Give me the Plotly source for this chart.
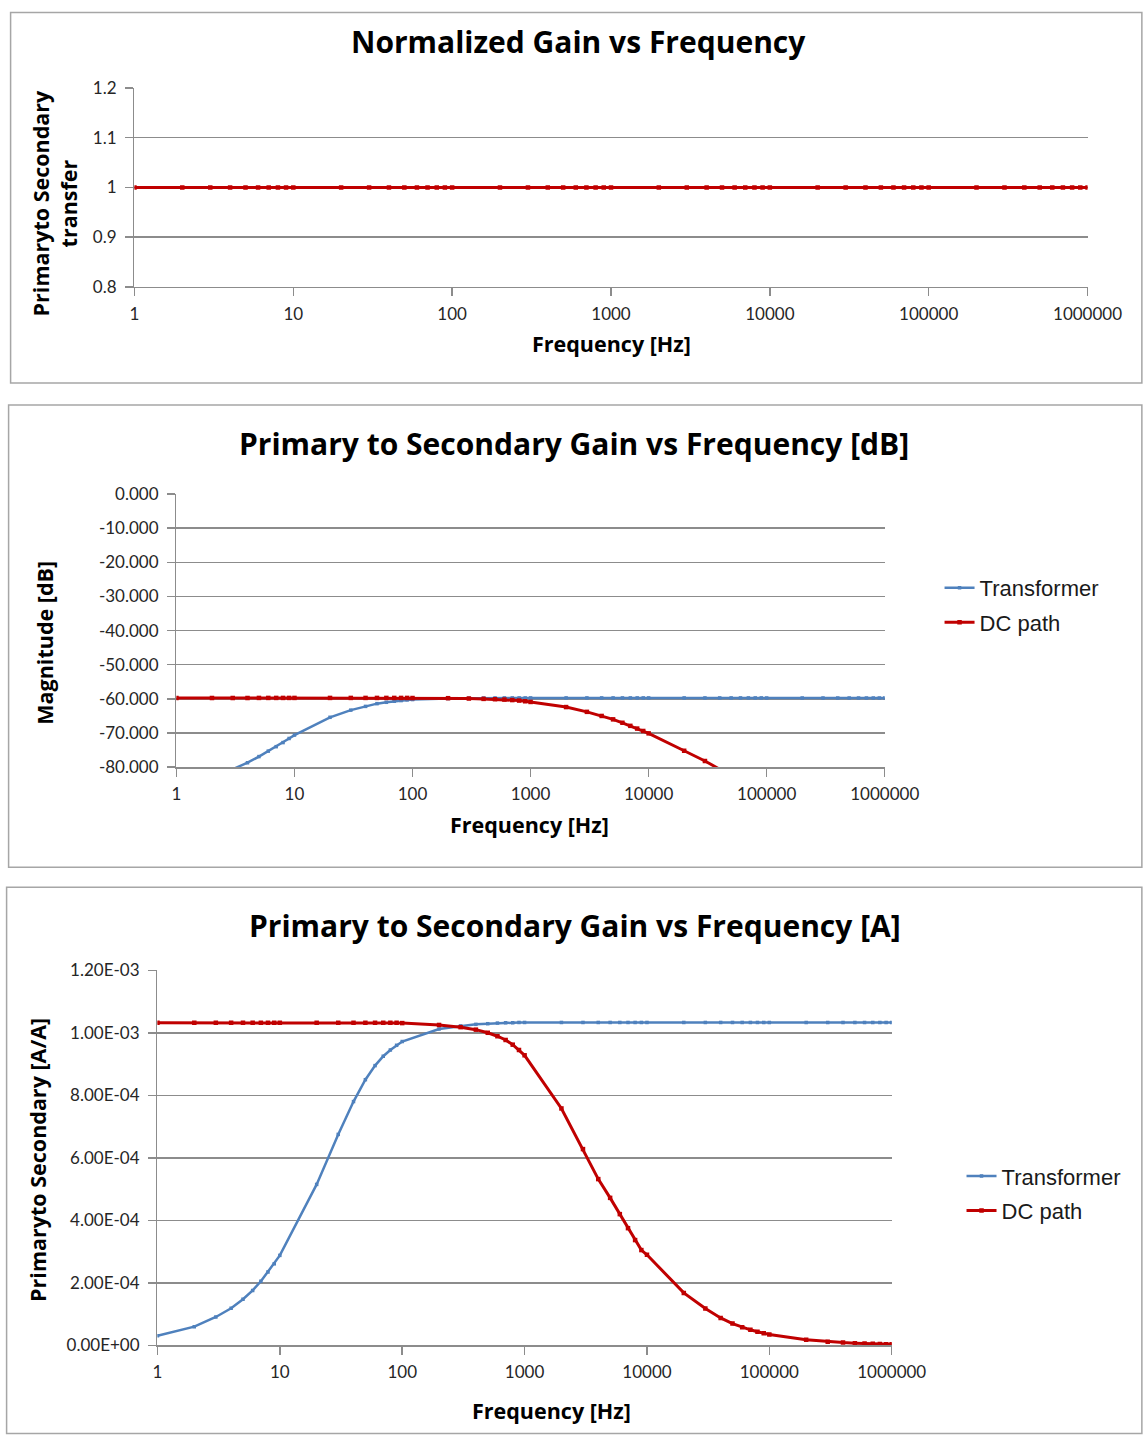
import plotly.graph_objects as go

# ---------------- data ----------------
freq = [1, 2, 3, 4, 5, 6, 7, 8, 9,
        10, 20, 30, 40, 50, 60, 70, 80, 90,
        100, 200, 300, 400, 500, 600, 700, 800, 900,
        1000, 2000, 3000, 4000, 5000, 6000, 7000, 8000, 9000,
        10000, 20000, 30000, 40000, 50000, 60000, 70000, 80000, 90000,
        100000, 200000, 300000, 400000, 500000, 600000, 700000, 800000, 900000,
        1000000]

normalized = [1, 1, 1, 1, 1, 1, 1, 1, 1,
              1, 1, 1, 1, 1, 1, 1, 1, 1,
              1, 1, 1, 1, 1, 1, 1, 1, 1,
              1, 1, 1, 1, 1, 1, 1, 1, 1,
              1, 1, 1, 1, 1, 1, 1, 1, 1,
              1, 1, 1, 1, 1, 1, 1, 1, 1,
              1]

transformer_db = [-90.3, -84.5, -80.6, -78.7, -76.9, -75.3, -74.0, -72.8, -71.6,
                  -70.6, -65.4, -63.3, -62.2, -61.4, -61.0, -60.7, -60.5, -60.3,
                  -60.2, -59.9, -59.8, -59.75, -59.73, -59.72, -59.72, -59.72, -59.72,
                  -59.72, -59.72, -59.72, -59.72, -59.72, -59.72, -59.72, -59.72, -59.72,
                  -59.72, -59.72, -59.72, -59.72, -59.72, -59.72, -59.72, -59.72, -59.72,
                  -59.72, -59.72, -59.72, -59.72, -59.72, -59.72, -59.72, -59.72, -59.72,
                  -59.72]

dcpath_db = [-59.72, -59.72, -59.72, -59.72, -59.72, -59.72, -59.72, -59.72, -59.72,
             -59.72, -59.72, -59.72, -59.72, -59.72, -59.72, -59.72, -59.72, -59.72,
             -59.75, -59.8, -59.9, -60.0, -60.1, -60.2, -60.35, -60.5, -60.7,
             -60.9, -62.4, -63.8, -65.0, -66.0, -67.0, -67.9, -68.7, -69.4,
             -70.1, -75.2, -78.2, -80.6, -82.5, -84.2, -85.6, -86.8, -87.9,
             -88.8, -94.8, -98.3, -100.8, -102.7, -104.3, -105.6, -106.8, -107.8,
             -108.8]

transformer_a = [3.07e-5, 6.0e-5, 9.1e-5, 1.19e-4, 1.48e-4, 1.76e-4, 2.05e-4, 2.35e-4, 2.61e-4,
                 2.88e-4, 5.15e-4, 6.75e-4, 7.8e-4, 8.5e-4, 8.95e-4, 9.25e-4, 9.45e-4, 9.6e-4,
                 9.72e-4, 1.012e-3, 1.022e-3, 1.027e-3, 1.029e-3, 1.031e-3, 1.032e-3, 1.032e-3, 1.033e-3,
                 1.033e-3, 1.033e-3, 1.033e-3, 1.033e-3, 1.033e-3, 1.033e-3, 1.033e-3, 1.033e-3, 1.033e-3,
                 1.033e-3, 1.033e-3, 1.033e-3, 1.033e-3, 1.033e-3, 1.033e-3, 1.033e-3, 1.033e-3, 1.033e-3,
                 1.033e-3, 1.033e-3, 1.033e-3, 1.033e-3, 1.033e-3, 1.033e-3, 1.033e-3, 1.033e-3, 1.033e-3,
                 1.033e-3]

dcpath_a = [1.032e-3, 1.032e-3, 1.032e-3, 1.032e-3, 1.032e-3, 1.032e-3, 1.032e-3, 1.032e-3, 1.032e-3,
            1.032e-3, 1.032e-3, 1.032e-3, 1.032e-3, 1.032e-3, 1.032e-3, 1.032e-3, 1.032e-3, 1.032e-3,
            1.031e-3, 1.025e-3, 1.018e-3, 1.010e-3, 1.000e-3, 0.989e-3, 0.977e-3, 0.962e-3, 0.945e-3,
            0.928e-3, 0.758e-3, 0.628e-3, 0.532e-3, 0.472e-3, 0.420e-3, 0.375e-3, 0.337e-3, 0.305e-3,
            0.290e-3, 0.168e-3, 0.118e-3, 0.088e-3, 0.070e-3, 0.058e-3, 0.050e-3, 0.044e-3, 0.039e-3,
            0.035e-3, 0.018e-3, 0.012e-3, 0.009e-3, 0.0072e-3, 0.006e-3, 0.0052e-3, 0.0045e-3, 0.004e-3,
            0.0036e-3]

x_tickvals = [1, 10, 100, 1000, 10000, 100000, 1000000]
x_ticktext = ["1", "10", "100", "1000", "10000", "100000", "1000000"]

y1_tickvals = [0.8, 0.9, 1.0, 1.1, 1.2]
y1_ticktext = ["0.8", "0.9", "1", "1.1", "1.2"]

y2_tickvals = [0, -10, -20, -30, -40, -50, -60, -70, -80]
y2_ticktext = ["0.000", "-10.000", "-20.000", "-30.000", "-40.000",
               "-50.000", "-60.000", "-70.000", "-80.000"]

y3_tickvals = [0, 2e-4, 4e-4, 6e-4, 8e-4, 1e-3, 1.2e-3]
y3_ticktext = ["0.00E+00", "2.00E-04", "4.00E-04", "6.00E-04",
               "8.00E-04", "1.00E-03", "1.20E-03"]

titles = ["Normalized Gain vs Frequency",
          "Primary to Secondary Gain vs Frequency [dB]",
          "Primary to Secondary Gain vs Frequency [A]"]
x_title = "Frequency [Hz]"
y_titles = ["Primaryto Secondary<br>transfer", "Magnitude [dB]",
            "Primaryto Secondary [A/A]"]
series_names = ["Transformer", "DC path"]

# ---------------- geometry ----------------
# body margin is removed below, so the figure starts at the page origin
W, H = 1178, 1445
MARGIN = 0
SX, OX = 0.967, 4.4
SY, OY = 0.985, 11.2


def px(x):
    return ((x - OX) / SX - MARGIN) / W


def py(y):
    return 1 - ((y - OY) / SY - MARGIN) / H


def clamp(v):
    return min(max(v, 0.001), 0.999)


# ---------------- style ----------------
BLUE = "#4F81BD"
RED = "#C00000"
GRID = "#8C8C8C"
TICKF = dict(family="Lato, Carlito, Calibri, sans-serif", size=17, color="#262626")
TITLEF = dict(family="Open Sans, Lato, sans-serif", size=30, color="#000000", weight=700)
AXTF = dict(family="Open Sans, Lato, sans-serif", size=21.5, color="#000000", weight=700)
LEGF = dict(family="Liberation Sans, Arial, sans-serif", size=22, color="#1a1a1a")

fig = go.Figure()

fig.add_trace(go.Scatter(x=freq, y=normalized, mode="lines+markers", xaxis="x", yaxis="y",
                         line=dict(color=RED, width=3),
                         marker=dict(symbol="square", size=4.5, color=RED),
                         showlegend=False, name="Normalized"))
fig.add_trace(go.Scatter(x=freq, y=transformer_db, mode="lines+markers", xaxis="x2", yaxis="y2",
                         line=dict(color=BLUE, width=2.5),
                         marker=dict(symbol="square", size=3.5, color=BLUE),
                         name=series_names[0], legend="legend", legendgroup="a"))
fig.add_trace(go.Scatter(x=freq, y=dcpath_db, mode="lines+markers", xaxis="x2", yaxis="y2",
                         line=dict(color=RED, width=3),
                         marker=dict(symbol="square", size=4.5, color=RED),
                         name=series_names[1], legend="legend", legendgroup="b"))
fig.add_trace(go.Scatter(x=freq, y=transformer_a, mode="lines+markers", xaxis="x3", yaxis="y3",
                         line=dict(color=BLUE, width=2.5),
                         marker=dict(symbol="square", size=3.5, color=BLUE),
                         name=series_names[0], legend="legend2", legendgroup="c"))
fig.add_trace(go.Scatter(x=freq, y=dcpath_a, mode="lines+markers", xaxis="x3", yaxis="y3",
                         line=dict(color=RED, width=3),
                         marker=dict(symbol="square", size=4.5, color=RED),
                         name=series_names[1], legend="legend2", legendgroup="d"))


def xax(x0, x1, anchor):
    return dict(type="log", range=[0, 6], domain=[px(x0), px(x1)], anchor=anchor,
                tickvals=x_tickvals, ticktext=x_ticktext, tickfont=TICKF,
                showgrid=False, showline=True, linecolor=GRID, linewidth=1.5,
                ticks="outside", ticklen=8, tickcolor=GRID, tickwidth=1.5,
                ticklabelstandoff=3, zeroline=False, fixedrange=True)


def yax(y_bottom, y_top, anchor, rng, tv, tt):
    return dict(range=rng, domain=[py(y_bottom), py(y_top)], anchor=anchor,
                tickvals=tv, ticktext=tt,
                tickfont=TICKF, showgrid=True, gridcolor=GRID, gridwidth=1.5,
                showline=True, linecolor=GRID, linewidth=1.5,
                ticks="outside", ticklen=8, tickcolor=GRID, tickwidth=1.5,
                ticklabelstandoff=5, zeroline=False, fixedrange=True)


LEG_TEXT_OFFSET = 41.5   # legend text start relative to legend x (page px)
LEG_ROW_OFFSET = 21.5    # first row centre relative to legend top (page px)


def leg_x(text_left):
    return ((text_left - OX) / SX - LEG_TEXT_OFFSET - MARGIN) / W


def leg_y(row_centre):
    return 1 - ((row_centre - OY) / SY - LEG_ROW_OFFSET - MARGIN) / H


fig.update_layout(
    width=W, height=H, margin=dict(l=0, r=0, t=0, b=0),
    paper_bgcolor="white", plot_bgcolor="white",
    xaxis=xax(134, 1088, "y"),
    yaxis=yax(287, 88, "x", [0.8, 1.2], y1_tickvals, y1_ticktext),
    xaxis2=xax(176, 885, "y2"),
    yaxis2=yax(767, 494, "x2", [-80, 0], y2_tickvals, y2_ticktext),
    xaxis3=xax(157, 892, "y3"),
    yaxis3=yax(1345, 970, "x3", [0, 1.2e-3], y3_tickvals, y3_ticktext),
    legend=dict(x=leg_x(980), y=leg_y(588), xanchor="left", yanchor="top",
                font=LEGF, bgcolor="rgba(0,0,0,0)", tracegroupgap=3),
    legend2=dict(x=leg_x(1002), y=leg_y(1176), xanchor="left", yanchor="top",
                 font=LEGF, bgcolor="rgba(0,0,0,0)", tracegroupgap=3),
)

frames = [(10, 5, 1143, 383), (8, 405, 1143, 867), (6, 887, 1143, 1433)]
for x0, y0, x1, y1 in frames:
    fig.add_shape(type="rect", xref="paper", yref="paper",
                  x0=clamp(px(x0)), x1=clamp(px(x1)),
                  y0=clamp(py(y0)), y1=clamp(py(y1)),
                  line=dict(color="#A6A6A6", width=1.5), layer="below")

for t, (cx, cy) in zip(titles, [(578, 42), (574, 443), (575, 925)]):
    fig.add_annotation(text=t, x=px(cx), y=py(cy), xref="paper", yref="paper",
                       showarrow=False, font=TITLEF, xanchor="center", yanchor="middle")

for cx, cy in [(611, 344), (529, 824), (551, 1410)]:
    fig.add_annotation(text=x_title, x=px(cx), y=py(cy), xref="paper", yref="paper",
                       showarrow=False, font=AXTF, xanchor="center", yanchor="middle")

for t, (cx, cy) in zip(y_titles, [(54, 203), (44, 643), (37, 1160)]):
    fig.add_annotation(text=t, x=px(cx), y=py(cy), xref="paper", yref="paper",
                       showarrow=False, font=AXTF, textangle=-90,
                       xanchor="center", yanchor="middle")

fig.write_html("out.html", config={"displayModeBar": False, "staticPlot": True},
               post_script="document.body.style.margin='0px';")
